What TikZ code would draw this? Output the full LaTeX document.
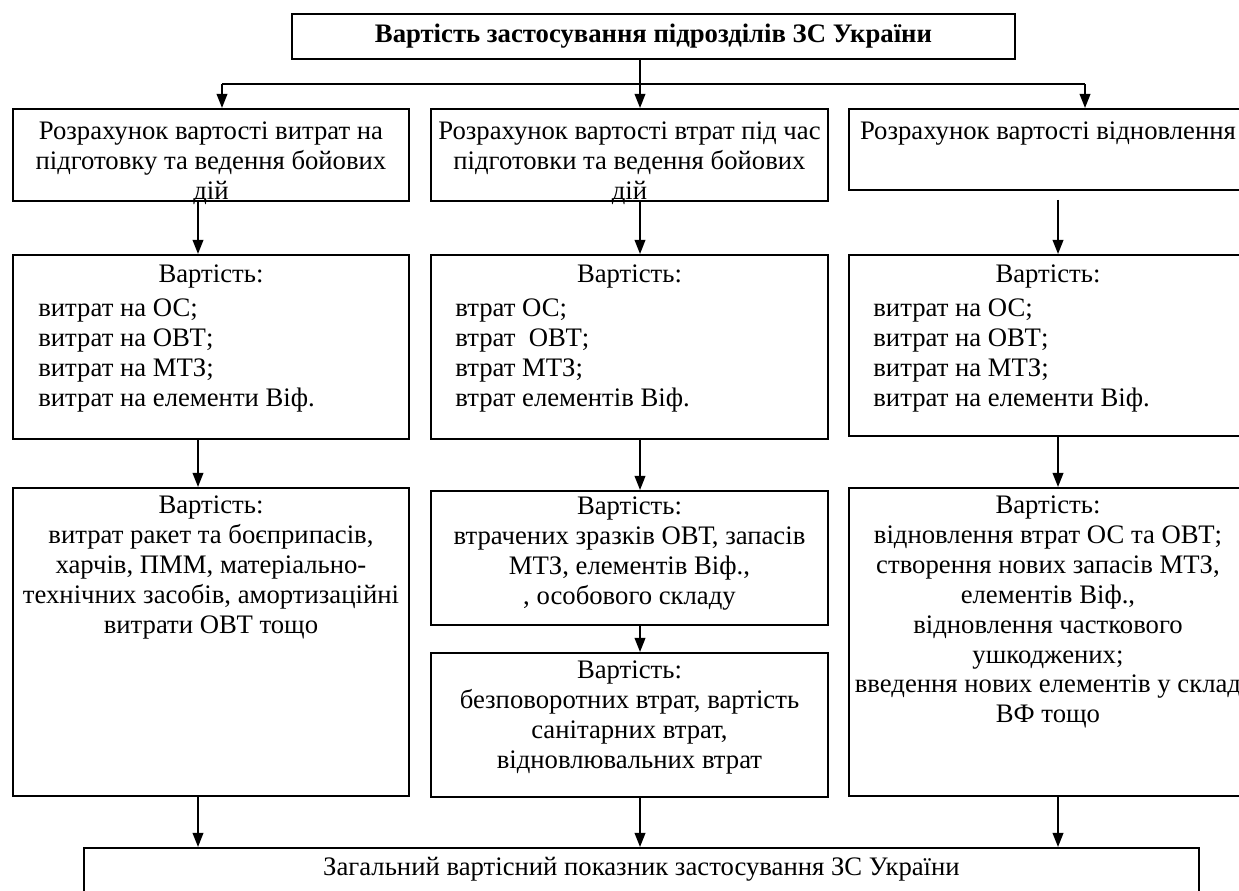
\documentclass[tikz,border=0pt]{standalone}
\usepackage{fontspec}
\setmainfont{Liberation Serif}
\usetikzlibrary{arrows.meta,calc,positioning}
\newlength\pxu
\setlength\pxu{0.02cm}

\begin{document}
\begin{tikzpicture}[x=\pxu,y=-\pxu,>={Triangle[length=8pt,width=6pt]},
    font=\fontsize{15.2}{17.07}\selectfont]
    \tikzstyle{box}=[draw,line width=1.1pt,anchor=north west,inner sep=0pt]
    \tikzstyle{txt}=[anchor=north,align=center,inner sep=0pt]
    \tikzstyle{lst}=[anchor=north west,align=left,inner sep=0pt]
    \tikzstyle{arr}=[line width=1.1pt,->]
    \path[use as bounding box,clip] (0,0) rectangle (1239,890);

    % columns of the arrows
    \coordinate (colA) at (198,0);
    \coordinate (colB) at (640,0);
    \coordinate (colC) at (1058,0);
    \coordinate (forkL) at (222,84);
    \coordinate (forkR) at (1085,84);

    \node[box,minimum width=723\pxu,minimum height=45\pxu,font=\fontsize{15.2}{17.07}\selectfont\bfseries] (top) at (291,13) {Вартість застосування підрозділів ЗС України};

    % first row
    \node[box,minimum width=396\pxu,minimum height=92\pxu] (A1) at (12,108) {};
    \node[box,minimum width=397\pxu,minimum height=92\pxu] (B1) at (430,108) {};
    \node[box,minimum width=398\pxu,minimum height=81\pxu] (C1) at (848,108) {};
    \node[txt] (A1t) at ([yshift=-13\pxu]A1.north) {Розрахунок вартості витрат на\\підготовку та ведення бойових\\дій};
    \node[txt] (B1t) at ([yshift=-13\pxu]B1.north) {Розрахунок вартості втрат під час\\підготовки та ведення бойових\\дій};
    \node[txt] (C1t) at ([yshift=-13\pxu]C1.north) {Розрахунок вартості відновлення};

    % second row
    \node[box,minimum width=396\pxu,minimum height=184\pxu] (A2) at (12,254) {};
    \node[box,minimum width=397\pxu,minimum height=184\pxu] (B2) at (430,254) {};
    \node[box,minimum width=398\pxu,minimum height=181\pxu] (C2) at (848,254) {};
    \node[txt] (A2t) at ([yshift=-10\pxu]A2.north) {Вартість:};
    \node[txt] (B2t) at ([yshift=-10\pxu]B2.north) {Вартість:};
    \node[txt] (C2t) at ([yshift=-10\pxu]C2.north) {Вартість:};
    \node[lst] (A2l) at ($(A2.north west)+(26,44)$) {витрат на ОС;\\витрат на ОВТ;\\витрат на МТЗ;\\витрат на елементи Віф.};
    \node[lst] (B2l) at ($(B2.north west)+(25,44)$) {втрат ОС;\\втрат\ \ ОВТ;\\втрат МТЗ;\\втрат елементів Віф.};
    \node[lst] (C2l) at ($(C2.north west)+(25,44)$) {витрат на ОС;\\витрат на ОВТ;\\витрат на МТЗ;\\витрат на елементи Віф.};

    % third row
    \node[box,minimum width=396\pxu,minimum height=308\pxu] (A3) at (12,487) {};
    \node[box,minimum width=397\pxu,minimum height=134\pxu] (B3) at (430,490) {};
    \node[box,minimum width=397\pxu,minimum height=144\pxu] (B4) at (430,652) {};
    \node[box,minimum width=398\pxu,minimum height=308\pxu] (C3) at (848,487) {};
    \node[txt] (A3t) at ([yshift=-8\pxu]A3.north) {Вартість:\\витрат ракет та боєприпасів,\\харчів, ПММ, матеріально-\\технічних засобів, амортизаційні\\витрати ОВТ тощо};
    \node[txt] (B3t) at ([yshift=-6\pxu]B3.north) {Вартість:\\втрачених зразків ОВТ, запасів\\МТЗ, елементів Віф.,\\, особового складу};
    \node[txt] (B4t) at ([yshift=-8\pxu]B4.north) {Вартість:\\безповоротних втрат, вартість\\санітарних втрат,\\відновлювальних втрат};
    \node[txt] (C3t) at ([yshift=-8\pxu]C3.north) {Вартість:\\відновлення втрат ОС та ОВТ;\\створення нових запасів МТЗ,\\елементів Віф.,\\відновлення часткового\\ушкоджених;\\введення нових елементів у склад\\ВФ тощо};

    \node[box,minimum width=1115\pxu,minimum height=80\pxu] (bot) at (83,847) {};
    \node[txt] (bott) at ([yshift=-10\pxu]bot.north) {Загальний вартісний показник застосування ЗС України};

    % connectors
    \draw[line width=1.1pt] (forkL) -- (forkR);
    \draw[arr] (forkL) -- (forkL |- A1.north);
    \draw[arr] (forkR) -- (forkR |- C1.north);
    \draw[arr] (top.south -| colB) -- (B1.north -| colB);
    \draw[arr] (A1.south -| colA) -- (A2.north -| colA);
    \draw[arr] (B1.south -| colB) -- (B2.north -| colB);
    \draw[arr] ($(C1.south -| colC)+(0,9)$) -- (C2.north -| colC);
    \draw[arr] (A2.south -| colA) -- (A3.north -| colA);
    \draw[arr] (B2.south -| colB) -- (B3.north -| colB);
    \draw[arr] (C2.south -| colC) -- (C3.north -| colC);
    \draw[arr] (B3.south -| colB) -- (B4.north -| colB);
    \draw[arr] (A3.south -| colA) -- (bot.north -| colA);
    \draw[arr] (B4.south -| colB) -- (bot.north -| colB);
    \draw[arr] (C3.south -| colC) -- (bot.north -| colC);
  \end{tikzpicture}
\end{document}
